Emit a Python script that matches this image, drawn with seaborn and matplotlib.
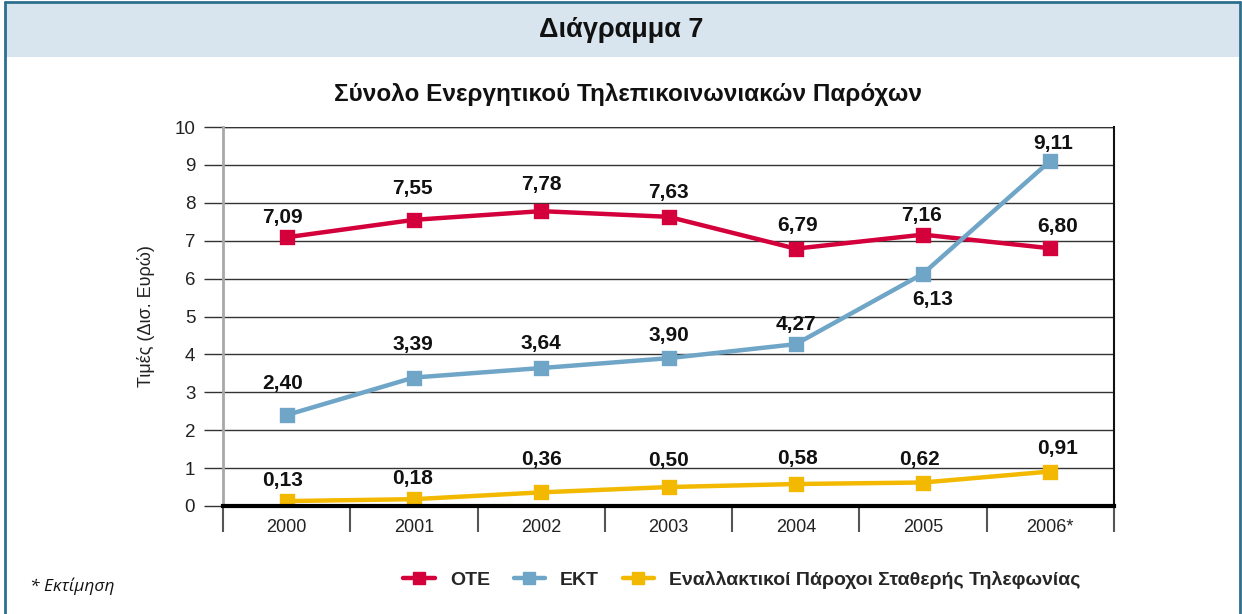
import pandas as pd
import matplotlib.pyplot as plt
import seaborn as sns
from matplotlib.patches import Rectangle
from matplotlib.lines import Line2D

# data
years = ["2000", "2001", "2002", "2003", "2004", "2005", "2006*"]
ote = [7.09, 7.55, 7.78, 7.63, 6.79, 7.16, 6.80]
ekt = [2.40, 3.39, 3.64, 3.90, 4.27, 6.13, 9.11]
alt = [0.13, 0.18, 0.36, 0.50, 0.58, 0.62, 0.91]
series_names = ["ΟΤΕ", "ΕΚΤ", "Εναλλακτικοί Πάροχοι Σταθερής Τηλεφωνίας"]
colors = ["#d4003b", "#6fa5c7", "#f2b900"]

rows = []
for name, vals in zip(series_names, [ote, ekt, alt]):
    for y, v in zip(years, vals):
        rows.append({"year": y, "value": v, "series": name})
df = pd.DataFrame(rows)

sns.set_theme(style="white")
plt.rcParams["font.family"] = ["Liberation Sans", "DejaVu Sans"]

fig = plt.figure(figsize=(12.42, 6.14), dpi=100)
ax = fig.add_axes([223 / 1242, 1 - 506 / 614, (1114 - 223) / 1242, (506 - 127) / 614])

sns.pointplot(data=df, x="year", y="value", hue="series", palette=colors,
              markers="s", linestyles="-", ax=ax, order=years,
              hue_order=series_names, markersize=9, linewidth=3.2, legend=False)

ax.set_ylim(0, 10)
ax.set_xlim(-0.5, 6.5)
ax.set_yticks(range(0, 11))
ax.yaxis.grid(True, color="#333333", linewidth=1)
ax.set_axisbelow(True)
ax.set_xlabel("")
ax.set_ylabel("Τιμές (Δισ. Ευρώ)", fontsize=13, labelpad=14, color="#222222")

ax.spines["top"].set_visible(False)
ax.spines["right"].set_color("#111111")
ax.spines["right"].set_linewidth(1.5)
ax.spines["left"].set_color("#a8a8a8")
ax.spines["left"].set_linewidth(2)
ax.spines["bottom"].set_color("#000000")
ax.spines["bottom"].set_linewidth(3)
ax.axhline(10, color="#333333", linewidth=1)

ax.tick_params(axis="y", which="major", left=True, length=14, width=1,
               color="#333333", labelsize=13.5, pad=6, labelcolor="#222222")
ax.tick_params(axis="x", which="major", bottom=False, length=0, labelsize=13,
               pad=9, labelcolor="#222222")
ax.set_xticks([i - 0.5 for i in range(8)], minor=True)
ax.tick_params(axis="x", which="minor", bottom=True, length=19, width=1.5,
               color="#555555", direction="out")

# value labels: (dx, dy) offsets in pixels
offsets = {
    "ΟΤΕ": [(-4, 20), (-1, 31), (0, 27), (0, 24), (2, 23), (-2, 19), (7, 22)],
    "ΕΚΤ": [(-4, 32), (-1, 33), (0, 25), (0, 23), (0, 20), (10, -26), (3, 17)],
    "Εναλλακτικοί Πάροχοι Σταθερής Τηλεφωνίας": [(-4, 21), (-1, 21), (0, 33), (0, 27), (2, 26), (-4, 23), (7, 23)],
}
for name, vals in zip(series_names, [ote, ekt, alt]):
    for i, v in enumerate(vals):
        dx, dy = offsets[name][i]
        ax.annotate(f"{v:.2f}".replace(".", ","), (i, v),
                    xytext=(dx * 0.72, dy * 0.72), textcoords="offset points",
                    ha="center", va="center", fontsize=15, fontweight="bold",
                    color="#111111")

# header band and frame
fig.patches.append(Rectangle((5 / 1242, 1 - 57 / 614), 1234 / 1242, 54 / 614,
                             transform=fig.transFigure, facecolor="#d8e4ee",
                             edgecolor="none", zorder=0))
frame = "#2d6f8e"
fig.add_artist(Line2D([5 / 1242, 5 / 1242], [0, 1 - 2 / 614], transform=fig.transFigure, color=frame, lw=2))
fig.add_artist(Line2D([5 / 1242, 1240 / 1242], [1 - 2 / 614, 1 - 2 / 614], transform=fig.transFigure, color=frame, lw=2))
fig.add_artist(Line2D([1240 / 1242, 1240 / 1242], [0, 1 - 2 / 614], transform=fig.transFigure, color=frame, lw=2))

fig.text(0.5, 1 - 30 / 614, "Διάγραμμα 7", ha="center", va="center",
         fontsize=19.5, fontweight="bold", color="#111111")
fig.text(628 / 1242, 1 - 95 / 614, "Σύνολο Ενεργητικού Τηλεπικοινωνιακών Παρόχων",
         ha="center", va="center", fontsize=17.5, fontweight="bold", color="#111111")
fig.text(30 / 1242, 1 - 586 / 614, "* Εκτίμηση", ha="left", va="center",
         fontsize=12.5, style="italic", family=["Open Sans", "DejaVu Sans"], color="#111111")

handles = [Line2D([], [], color=c, marker="s", markersize=8, linewidth=3.2) for c in colors]
fig.legend(handles, series_names, loc="center", bbox_to_anchor=(742 / 1242, 1 - 580 / 614),
           ncol=3, frameon=False, prop={"size": 14, "weight": "bold"},
           handlelength=1.6, columnspacing=1.2, handletextpad=0.8)

fig.savefig("out.png", dpi=100)
